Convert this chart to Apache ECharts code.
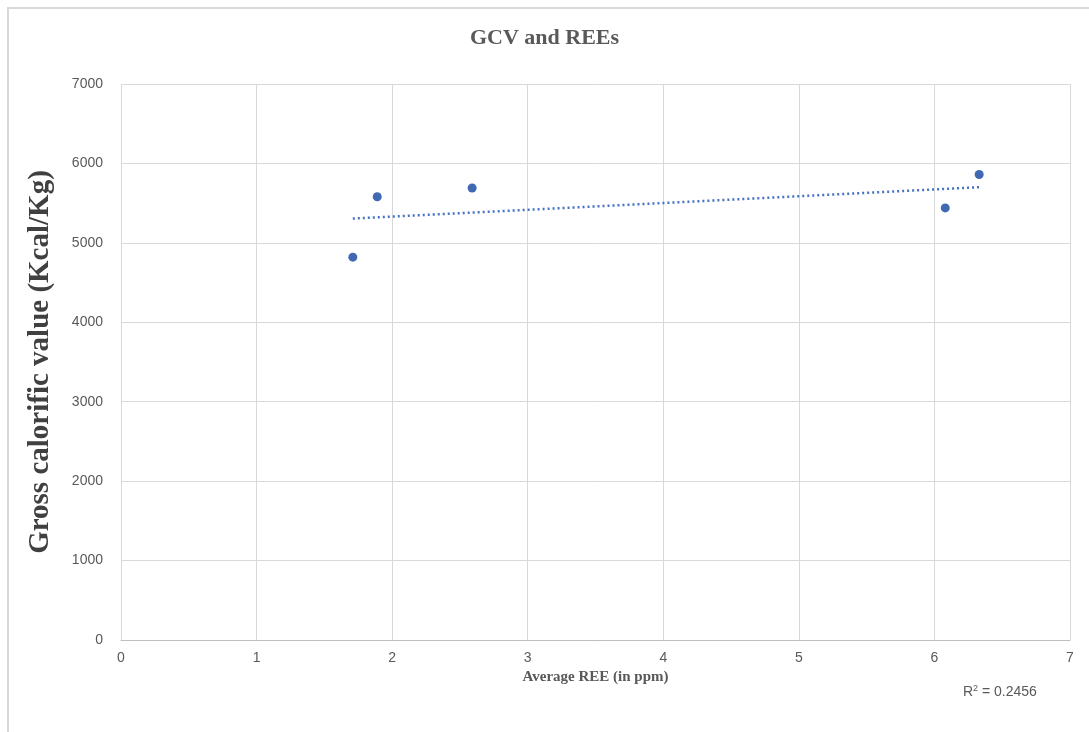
<!DOCTYPE html>
<html>
<head>
<meta charset="utf-8">
<title>GCV and REEs</title>
<script src="https://cdn.jsdelivr.net/npm/echarts@6/dist/echarts.min.js"></script>
<style>
  html, body { margin: 0; padding: 0; background: #fff; }
  #frame { position: absolute; left: 7px; top: 7px; width: 1082px; height: 725px;
           border-top: 2px solid #d9d9d9; border-left: 2px solid #d9d9d9; box-sizing: border-box; }
  #chart { position: absolute; left: 0; top: 0; width: 1089px; height: 732px; }
</style>
</head>
<body>
<div id="frame"></div>
<div id="chart"></div>
<script>
// average REE (ppm) vs gross calorific value (Kcal/Kg)
var reeValues = [1.71, 1.89, 2.59, 6.08, 6.33]
var gcvValues = [4820, 5580, 5690, 5440, 5860]
var xTicks = [0, 1, 2, 3, 4, 5, 6, 7]
var yTicks = [0, 1000, 2000, 3000, 4000, 5000, 6000, 7000]

var points = reeValues.map(function (x, i) { return [x, gcvValues[i]] })

// least squares trendline, like the excel linear trend
function linearFit(xs, ys) {
  var n = xs.length, mx = 0, my = 0
  for (var i = 0; i < n; i++) { mx += xs[i]; my += ys[i] }
  mx /= n; my /= n
  var sxy = 0, sxx = 0
  for (var j = 0; j < n; j++) {
    sxy += (xs[j] - mx) * (ys[j] - my)
    sxx += (xs[j] - mx) * (xs[j] - mx)
  }
  var slope = sxy / sxx
  return { slope: slope, intercept: my - slope * mx }
}
var fit = linearFit(reeValues, gcvValues)
var xMin = Math.min.apply(null, reeValues)
var xMax = Math.max.apply(null, reeValues)
var trend = [
  [xMin, fit.intercept + fit.slope * xMin],
  [xMax, fit.intercept + fit.slope * xMax]
]

var chart = echarts.init(document.getElementById('chart'))
chart.setOption({
  animation: false,
  title: {
    text: 'GCV and REEs',
    left: 'center',
    top: 22,
    textStyle: { fontFamily: 'Liberation Serif', fontWeight: 'bold', fontSize: 22, color: '#595959' }
  },
  grid: { left: 121, right: 19, top: 84, bottom: 92 },
  xAxis: {
    type: 'value',
    min: xTicks[0],
    max: xTicks[xTicks.length - 1],
    interval: 1,
    name: 'Average REE (in ppm)',
    nameLocation: 'middle',
    nameGap: 30,
    nameTextStyle: { fontFamily: 'Liberation Serif', fontWeight: 'bold', fontSize: 15, color: '#595959' },
    axisLine: { show: true, lineStyle: { color: '#bfbfbf', width: 1 } },
    axisTick: { show: false },
    axisLabel: { margin: 11, fontFamily: 'Liberation Sans', fontSize: 14, color: '#595959' },
    splitLine: { show: true, lineStyle: { color: '#d9d9d9', width: 1 } }
  },
  yAxis: {
    type: 'value',
    min: yTicks[0],
    max: yTicks[yTicks.length - 1],
    interval: 1000,
    name: 'Gross calorific value (Kcal/Kg)',
    nameLocation: 'middle',
    nameGap: 66,
    nameTextStyle: { fontFamily: 'Liberation Serif', fontWeight: 'bold', fontSize: 29, color: '#404040' },
    axisLine: { show: false },
    axisTick: { show: false },
    axisLabel: {
      margin: 18, fontFamily: 'Liberation Sans', fontSize: 14, color: '#595959',
      formatter: function (v) { return String(v) }
    },
    splitLine: { show: true, lineStyle: { color: '#d9d9d9', width: 1 } }
  },
  series: [
    {
      type: 'line',
      data: trend,
      symbol: 'none',
      silent: true,
      lineStyle: { color: '#4472c4', width: 2.5, type: [2, 3] },
      z: 1
    },
    {
      type: 'scatter',
      data: points,
      symbol: 'circle',
      symbolSize: 9,
      itemStyle: { color: '#4169b3', opacity: 1 },
      z: 2
    }
  ],
  graphic: [{
    type: 'text',
    left: 963,
    top: 684,
    style: {
      rich: {
        base: { fontFamily: 'Liberation Sans', fontSize: 14, fill: '#595959' },
        sup: { fontFamily: 'Liberation Sans', fontSize: 9, fill: '#595959', verticalAlign: 'top', padding: [0, 0, 7, 0] }
      },
      text: '{base|R}{sup|2}{base| = 0.2456}'
    }
  }]
})
</script>
</body>
</html>
